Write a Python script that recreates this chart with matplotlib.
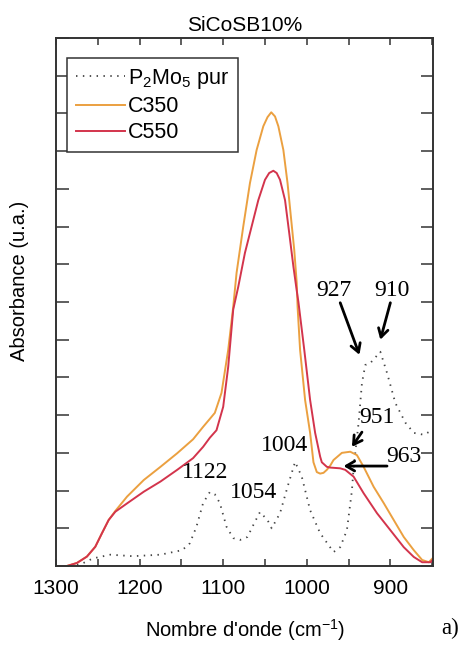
import matplotlib
matplotlib.use("Agg")
import matplotlib.pyplot as plt

plt.rcParams["mathtext.fontset"] = "custom"
plt.rcParams["mathtext.rm"] = "Liberation Sans"
plt.rcParams["mathtext.it"] = "Liberation Sans:italic"
plt.rcParams["mathtext.default"] = "regular"

# ---- data (wavenumber cm-1, absorbance a.u.) ----
wn_p2mo5 = [1283, 1270, 1256, 1235, 1208, 1175, 1149, 1140, 1132, 1124, 1116, 1110, 1104,
            1096, 1088, 1080, 1071, 1063, 1056, 1047, 1042, 1032, 1023, 1014, 1006, 996,
            984, 968, 960, 952, 946, 944, 938, 934, 930, 924, 912, 904, 894, 882, 872, 860, 850]
ab_p2mo5 = [0.0, 0.05, 0.2, 0.3, 0.26, 0.3, 0.42, 0.6, 1.04, 1.67, 1.96, 1.9, 1.67,
            1.04, 0.74, 0.69, 0.77, 1.13, 1.43, 1.22, 1.0, 1.4, 2.1, 2.76, 2.37, 1.48,
            0.87, 0.37, 0.5, 0.95, 2.0, 2.6, 3.8, 4.85, 5.33, 5.38, 5.68, 5.12, 4.32, 3.8, 3.53, 3.48, 3.6]

wn_c350 = [1300, 1287, 1275, 1263, 1253, 1245, 1237, 1229, 1215, 1195, 1175, 1155, 1136,
           1124, 1116, 1110, 1102, 1094, 1088, 1084, 1076, 1068, 1060, 1052, 1047, 1042.5,
           1038, 1034, 1028, 1023, 1019, 1015, 1012, 1011, 1008, 1002, 996, 992, 988, 984,
           980, 976, 972, 968, 958, 948, 940, 932, 920, 908, 896, 884, 872, 862, 854, 848]
ab_c350 = [0.0, 0.0, 0.08, 0.25, 0.51, 0.87, 1.22, 1.46, 1.84, 2.28, 2.63, 2.99, 3.36,
           3.69, 3.9, 4.06, 4.59, 5.73, 6.87, 7.77, 9.0, 10.15, 11.03, 11.66, 11.9, 12.03,
           11.92, 11.66, 11.03, 10.15, 9.26, 8.38, 7.5, 6.87, 5.73, 4.4, 3.53, 2.75, 2.49, 2.45,
           2.47, 2.55, 2.66, 2.81, 3.0, 3.03, 2.94, 2.63, 2.1, 1.67, 1.22, 0.77, 0.42, 0.16, 0.1, 0.24]

wn_c550 = [1300, 1287, 1275, 1263, 1253, 1245, 1237, 1229, 1215, 1195, 1175, 1155, 1136,
           1124, 1116, 1108, 1100, 1094, 1088, 1082, 1074, 1066, 1058, 1050, 1045, 1040,
           1036, 1032, 1026, 1021, 1016, 1012, 1010, 1003, 996, 990, 984, 982, 976, 972,
           960, 954, 944, 932, 916, 900, 884, 872, 862, 852, 848]
ab_c550 = [0.0, 0.0, 0.08, 0.25, 0.51, 0.87, 1.22, 1.44, 1.66, 1.97, 2.24, 2.55, 2.86,
           3.16, 3.4, 3.6, 4.22, 5.28, 6.8, 7.4, 8.3, 9.0, 9.7, 10.24, 10.42, 10.48,
           10.42, 10.24, 9.7, 8.83, 7.94, 7.3, 7.0, 5.73, 4.4, 3.53, 2.9, 2.75, 2.63, 2.61,
           2.59, 2.55, 2.37, 1.93, 1.4, 0.95, 0.5, 0.24, 0.1, 0.1, 0.2]

labels = ["P$_2$Mo$_5$ pur", "C350", "C550"]

# annotations: text, text position (wn, ab), arrow tail, arrow tip (None = no arrow)
ann_text = ["927", "910", "951", "963", "1004", "1122", "1054"]
ann_pos = [(968, 7.3), (898, 7.3), (916, 3.93), (884, 2.9), (1026, 3.2), (1122, 2.47), (1064, 1.96)]
ann_tail = [(960, 6.98), (900, 6.98), (934, 3.55), (904, 2.65), None, None, None]
ann_tip = [(937, 5.6), (912, 6.0), (946, 3.16), (956, 2.65), None, None, None]

sans = ["Liberation Sans", "DejaVu Sans"]
serif = ["Liberation Serif", "DejaVu Serif"]

fig = plt.figure(figsize=(4.63, 6.48), dpi=100)
ax = fig.add_axes([56/463, 1-566/648, (433-56)/463, (566-38)/648])

ax.plot(wn_p2mo5, ab_p2mo5, color="#444444", lw=1.3, linestyle=(0, (0.8, 3.0)), label=labels[0])
ax.plot(wn_c350, ab_c350, color="#EBA040", lw=1.4, label=labels[1])
ax.plot(wn_c550, ab_c550, color="#D3344C", lw=1.4, label=labels[2])

ax.set_xlim(1300, 849)
ax.set_ylim(0, 14)
ax.set_xticks([1300, 1200, 1100, 1000, 900])
ax.set_xticks([1250, 1150, 1050, 950, 850], minor=True)
ax.set_yticks(range(0, 15))
ax.set_yticklabels([])
ax.tick_params(axis="x", which="both", direction="in", top=True, bottom=True,
               length=5, width=1.1, color="#333333", labelsize=15, pad=9)
ax.tick_params(axis="y", which="both", direction="in", left=True, right=True,
               length=9, width=1.1, color="#333333")
for lab in ax.get_xticklabels():
    lab.set_family(sans)
for s in ax.spines.values():
    s.set_color("#333333")
    s.set_linewidth(1.4)

ax.set_title("SiCoSB10%", fontsize=15, family=sans, pad=5)
fig.text(20/463, 1-281/648, "Absorbance (u.a.)", rotation=90, ha="center", va="center",
         fontsize=14.5, family=sans)
fig.text(245/463, 1-630/648, "Nombre d'onde (cm$^{-1}$)", ha="center", va="center",
         fontsize=14.5, family=sans)
fig.text(450/463, 1-628/648, "a)", ha="center", va="center", fontsize=16.5, family=serif)

leg = ax.legend(loc="upper left", bbox_to_anchor=(0.029, 0.962), frameon=True, fancybox=False,
                edgecolor="#333333", framealpha=1, prop={"family": sans, "size": 15.5},
                handlelength=2.3, handletextpad=0.15, labelspacing=0.25, borderpad=0.4,
                borderaxespad=0)
leg.get_frame().set_linewidth(1.1)

for t, p, tail, tip in zip(ann_text, ann_pos, ann_tail, ann_tip):
    ax.text(p[0], p[1], t, ha="center", va="center", fontsize=17, family=serif)
    if tail is not None:
        ax.annotate("", xy=tip, xytext=tail,
                    arrowprops=dict(arrowstyle="->,head_length=0.6,head_width=0.35",
                                    lw=2.0, color="black", shrinkA=0, shrinkB=0))

fig.savefig("out.png", dpi=100)
